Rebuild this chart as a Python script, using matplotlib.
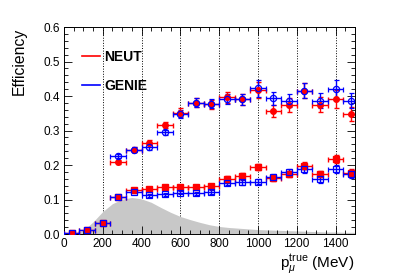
import numpy as np
import matplotlib
matplotlib.use("Agg")
import matplotlib.pyplot as plt
from matplotlib.lines import Line2D
from matplotlib.ticker import MultipleLocator

plt.rcParams['font.family'] = ['Liberation Sans', 'DejaVu Sans']
plt.rcParams['mathtext.fontset'] = 'custom'
plt.rcParams['mathtext.rm'] = 'Liberation Sans'
plt.rcParams['mathtext.it'] = 'Liberation Sans:italic'

# bins de momento (MeV), ancho 80
p_centros = [40, 120, 200, 280, 360, 440, 520, 600, 680, 760, 840, 920,
             1000, 1080, 1160, 1240, 1320, 1400, 1480]
p_medio_ancho = 40

# eficiencia baja (cuadrados)
neut_bajo = [0.002, 0.012, 0.033, 0.106, 0.128, 0.130, 0.135, 0.137, 0.137, 0.139,
             0.161, 0.169, 0.195, 0.163, 0.173, 0.198, 0.174, 0.217, 0.176]
neut_bajo_err = [0.003, 0.003, 0.004, 0.005, 0.005, 0.005, 0.005, 0.005, 0.005, 0.006,
                 0.006, 0.007, 0.008, 0.008, 0.009, 0.010, 0.010, 0.012, 0.012]
genie_bajo = [0.002, 0.012, 0.033, 0.106, 0.123, 0.112, 0.115, 0.120, 0.118, 0.123,
              0.147, 0.150, 0.152, 0.165, 0.179, 0.188, 0.159, 0.188, 0.174]
genie_bajo_err = [0.003, 0.003, 0.004, 0.005, 0.005, 0.005, 0.005, 0.005, 0.005, 0.006,
                  0.006, 0.007, 0.008, 0.008, 0.009, 0.010, 0.010, 0.012, 0.012]

# eficiencia alta (circulos), desde 280 MeV
p_alto = p_centros[3:]
neut_alto = [0.210, 0.245, 0.265, 0.316, 0.352, 0.381, 0.376, 0.396, 0.390,
             0.417, 0.356, 0.373, 0.416, 0.375, 0.392, 0.348]
neut_alto_err = [0.006, 0.006, 0.008, 0.008, 0.012, 0.012, 0.013, 0.015, 0.016,
                 0.024, 0.018, 0.020, 0.022, 0.022, 0.026, 0.020]
genie_alto = [0.226, 0.245, 0.251, 0.295, 0.348, 0.381, 0.378, 0.391, 0.390,
              0.422, 0.393, 0.387, 0.416, 0.386, 0.419, 0.386]
genie_alto_err = [0.006, 0.006, 0.008, 0.008, 0.012, 0.012, 0.013, 0.015, 0.016,
                  0.024, 0.018, 0.020, 0.022, 0.022, 0.028, 0.022]

# distribucion (gris, escala arbitraria)
p_dist = [0, 50, 100, 150, 200, 250, 300, 350, 400, 450, 500, 550, 600, 650, 700,
          750, 800, 850, 900, 950, 1000, 1050, 1100, 1150, 1200, 1250, 1300,
          1350, 1400, 1450, 1500]
dist = [0.0, 0.002, 0.010, 0.035, 0.065, 0.088, 0.101, 0.106, 0.102, 0.092, 0.077,
        0.063, 0.051, 0.042, 0.034, 0.027, 0.022, 0.019, 0.017, 0.015, 0.013,
        0.012, 0.011, 0.010, 0.009, 0.008, 0.007, 0.006, 0.006, 0.005, 0.005]

rojo = '#ff0000'
azul = '#0000ff'

fig = plt.figure(figsize=(4.07, 2.76), dpi=100)
ax = fig.add_axes([0.157, 0.152, 0.715, 0.750])

for xg in [200, 400, 600, 800, 1000, 1200, 1400]:
    ax.axvline(xg, color='black', ls=':', lw=0.7, zorder=0)

ax.fill_between(p_dist, 0, dist, color='#c8c8c8', lw=0, zorder=1)

estilo = dict(ls='none', capsize=1.8, elinewidth=1.0, capthick=1.0, zorder=3)
ax.errorbar(p_centros, neut_bajo, xerr=p_medio_ancho, yerr=neut_bajo_err,
            color=rojo, marker='s', ms=4, mfc=rojo, mec=rojo, **estilo)
ax.errorbar(p_alto, neut_alto, xerr=p_medio_ancho, yerr=neut_alto_err,
            color=rojo, marker='o', ms=4, mfc=rojo, mec=rojo, **estilo)
ax.errorbar(p_centros, genie_bajo, xerr=p_medio_ancho, yerr=genie_bajo_err,
            color=azul, marker='s', ms=4.5, mfc='none', mec=azul, mew=0.9, **estilo)
ax.errorbar(p_alto, genie_alto, xerr=p_medio_ancho, yerr=genie_alto_err,
            color=azul, marker='o', ms=4.5, mfc='none', mec=azul, mew=0.9, **estilo)

ax.set_xlim(0, 1500)
ax.set_ylim(0, 0.6)
ax.xaxis.set_major_locator(MultipleLocator(200))
ax.xaxis.set_minor_locator(MultipleLocator(50))
ax.yaxis.set_major_locator(MultipleLocator(0.1))
ax.yaxis.set_minor_locator(MultipleLocator(0.02))
ax.yaxis.set_major_formatter(matplotlib.ticker.FormatStrFormatter('%.1f'))
ax.tick_params(which='both', direction='in', top=True, right=True,
               labelsize=8.5, width=0.6, pad=3)
ax.tick_params(which='major', length=6)
ax.tick_params(which='minor', length=3)
for s in ax.spines.values():
    s.set_linewidth(0.7)

leyenda = [Line2D([], [], color=rojo, lw=1.2), Line2D([], [], color=azul, lw=1.2)]
ax.legend(leyenda, ['NEUT', 'GENIE'], loc='upper left', frameon=False,
          bbox_to_anchor=(0.02, 0.95), handlelength=1.3, handletextpad=0.3,
          labelspacing=1.1, prop={'weight': 'bold', 'size': 10})

fig.text(0.047, 0.899, 'Efficiency', rotation=90, ha='center', va='top', fontsize=11.3)
fig.text(0.87, 0.0, r'p$_{\mu}^{\rm true}$ (MeV)', ha='right', va='bottom', fontsize=11)

fig.savefig('out.png', dpi=100)
